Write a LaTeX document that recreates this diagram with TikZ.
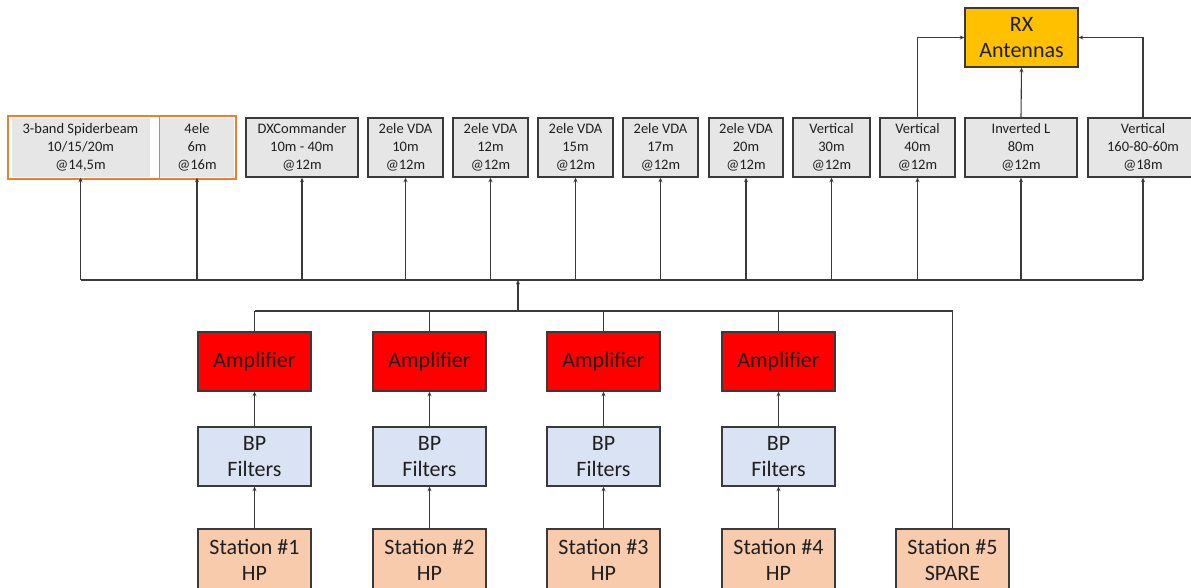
\documentclass[tikz,border=0pt]{standalone}
\usepackage{fontspec}
\setmainfont{Carlito}
\usepackage{xcolor}
\usepackage{tikz}
\usetikzlibrary{arrows.meta,calc}
\definecolor{antgray}{HTML}{E7E6E6}
\definecolor{boxline}{HTML}{3A3A3A}
\definecolor{spiderorange}{HTML}{ED7D31}
\definecolor{rxgold}{HTML}{FFC000}
\definecolor{bpblue}{HTML}{DAE3F3}
\definecolor{stpeach}{HTML}{F8CBAD}
\definecolor{ampred}{HTML}{FF0000}
\tikzset{
  ant/.style={draw=boxline, fill=antgray, line width=1.4pt, minimum height=59pt,
    inner sep=0pt, align=center, font=\fontsize{14.5}{18}\selectfont, text=black!88},
  bigbox/.style={draw=boxline, line width=1.4pt, minimum width=113pt, minimum height=59pt,
    inner sep=0pt, align=center, font=\fontsize{22}{26.5}\selectfont, text=black!88},
  feed/.style={draw=boxline, line width=1.1pt},
  feedarrow/.style={feed, -{Stealth[length=4.5pt,width=4pt]}},
}

\begin{document}
\begin{tikzpicture}[x=1pt, y=-1pt]
  \useasboundingbox (0,0) rectangle (1191,587);
  \clip (0,0) rectangle (1191,587);
  % antennas
  \node[ant, draw=none, minimum width=138pt] (sb) at (80.5,147.5) {3-band Spiderbeam\\10/15/20m\\@14,5m};
  \node[ant, draw=none, minimum width=74pt] (ele4) at (197,147.5) {4ele\\6m\\@16m};
  \draw[spiderorange, line width=2.2pt] ($(sb.north west)+(-2.5,-1)$) rectangle ($(ele4.south east)+(1.5,1)$);
  \draw[spiderorange, line width=1.6pt] (ele4.north west) -- (ele4.south west);
  \foreach \nm/\l/\r/\txt in {dx/246/358/{DXCommander\\10m - 40m\\@12m},
      vda10/368/443/{2ele VDA\\10m\\@12m}, vda12/453/528/{2ele VDA\\12m\\@12m},
      vda15/538/613/{2ele VDA\\15m\\@12m}, vda17/623/698/{2ele VDA\\17m\\@12m},
      vda20/709/783/{2ele VDA\\20m\\@12m}, vert30/793/870/{Vertical\\30m\\@12m},
      vert40/880/955/{Vertical\\40m\\@12m}, invl/965/1077/{Inverted L\\80m\\@12m},
      vert160/1088/1198/{Vertical\\160-80-60m\\@18m}}
    \node[ant, minimum width={\r-\l}] (\nm) at ({(\l+\r)/2},147.5) {\txt};
  \node[bigbox, fill=rxgold, minimum width=113pt] (rx) at (1021.5,37.5) {RX\\Antennas};
  \draw[feedarrow] (vert40.north) |- (rx.west);
  \draw[feedarrow] (vert160.north) |- (rx.east);
  \draw[feedarrow] (invl.north) -- (rx.south);
  % antenna bus
  \coordinate (busL) at (80.5,280);
  \coordinate (mixU) at (518,280);
  \coordinate (mixD) at (518,311);
  \draw[feed] (busL) -- (vert160.south |- busL);
  \foreach \nm in {sb,ele4,dx,vda10,vda12,vda15,vda17,vda20,vert30,vert40,invl,vert160}
    \draw[feedarrow] (\nm.south |- busL) -- (\nm.south);
  \draw[feedarrow] (mixD) -- (mixU);
  % stations
  \foreach \i/\x in {1/254.5,2/429.5,3/603.5,4/778.5}{
    \node[bigbox, fill=stpeach, minimum height=62pt] (st\i) at (\x,560) {Station \#\i\\HP};
    \node[bigbox, fill=bpblue] (bp\i) at (\x,456.5) {BP\\Filters};
    \node[bigbox, fill=ampred] (amp\i) at (\x,361.5) {Amplifier};
    \draw[feedarrow] (st\i) -- (bp\i);
    \draw[feedarrow] (bp\i) -- (amp\i);
    \draw[feed] (amp\i) -- (amp\i.north |- mixD);
  }
  \node[bigbox, fill=stpeach, minimum height=62pt] (st5) at (952.5,560) {Station \#5\\SPARE};
  \draw[feed] (amp1.north |- mixD) -- (st5.north |- mixD) -- (st5.north);
\end{tikzpicture}
\end{document}
